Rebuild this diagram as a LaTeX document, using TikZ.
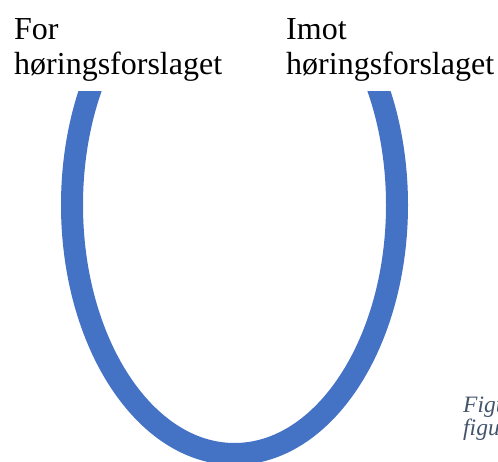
\documentclass[tikz,border=0pt]{standalone}
\usepackage{fontspec}
\setmainfont{Liberation Serif}
\usepackage{tikz}
\definecolor{ringblue}{HTML}{4472C4}
\definecolor{captiongray}{HTML}{44546A}
\tikzset{
    side label/.style={anchor=north west, inner sep=0pt, align=left, font=\fontsize{32}{35}\selectfont},
    caption label/.style={anchor=north west, inner sep=0pt, align=left, text=captiongray, font=\fontsize{23.5}{23}\selectfont\itshape}
}

\begin{document}
\begin{tikzpicture}[x=1pt,y=-1pt]
        \useasboundingbox (0,0) rectangle (498,462);

        \begin{scope}
            \clip (0,92) rectangle (498,470);
            \draw[ringblue, line width=22pt] (234.5,205) ellipse [x radius=162.5, y radius=249];
        \end{scope}

        \node[side label] (pro) at (14,18) {For\\høringsforslaget};
        \node[side label] (con) at (286,18) {Imot\\høringsforslaget};

        \node[caption label] (caption) at (463,397) {Figur\\figur};
    \end{tikzpicture}
\end{document}
